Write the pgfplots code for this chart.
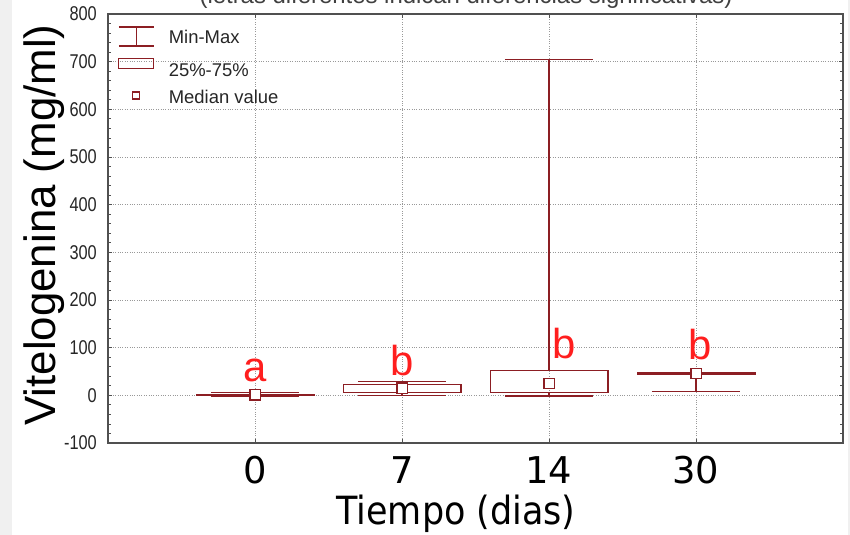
\documentclass[border=0pt]{standalone}
\usepackage{pgfplots}
\pgfplotsset{compat=1.18}
\usepackage{fontspec}
\setmainfont{Liberation Sans}
\newfontfamily\djv{DejaVu Sans}[FakeStretch=0.9]
\newfontfamily\djvt{DejaVu Sans}
\newfontfamily\narrow{Liberation Sans}[FakeStretch=0.82]
\definecolor{mycol}{RGB}{140,30,35}
\definecolor{myred}{RGB}{255,30,30}
\definecolor{axgray}{RGB}{80,80,80}
\begin{document}
\begin{tikzpicture}
\fill[gray!12] (0,0) rectangle (850bp,535bp);
\fill[white] (12bp,0) rectangle (848bp,535bp);
\node[anchor=base, inner sep=0pt, font=\fontsize{24}{24}\selectfont, text=black!75] at (466bp,531bp) {(letras diferentes indican diferencias significativas)};
\begin{axis}[
  at={(108bp,92bp)}, anchor=south west,
  width=735bp, height=429bp, scale only axis,
  xmin=0, xmax=5, ymin=-100, ymax=800,
  xtick={1,2,3,4}, xticklabels={0,7,14,30},
  ytick={-100,0,100,200,300,400,500,600,700,800},
  minor y tick num=4,
  tick align=inside,
  major tick length=4bp, minor tick length=3bp,
  tick style={axgray, line width=0.8bp},
  grid=major,
  major grid style={dotted, black!40, line width=0.9bp},
  axis line style={draw=axgray, line width=1.3bp},
  unbounded coords=jump,
  /pgf/number format/assume math mode=true,
  xticklabel style={font=\djvt\fontsize{37}{37}\selectfont, inner sep=0pt, yshift=-13bp},
  yticklabel style={font=\narrow\fontsize{20}{20}\selectfont, inner sep=0pt, xshift=-11bp, text=black!85},
  xlabel={Tiempo (dias)},
  xlabel style={font=\djv\fontsize{39}{39}\selectfont, at={(axis description cs:0.4735,-0.191)}, anchor=base, inner sep=0pt},
  ylabel={Vitelogenina (mg/ml)},
  ylabel style={font=\fontsize{44}{44}\selectfont, at={(axis description cs:-0.072,0.508)}, anchor=base, inner sep=0pt},
  legend style={at={(axis description cs:0.0136,0.972)}, anchor=north west, draw=none, fill=none,
    font=\fontsize{18.5}{18.5}\selectfont, row sep=10.5bp, inner sep=0pt,
    nodes={inner sep=0pt, text height=13bp, text depth=4bp, text=black!85}},
  legend cell align=left,
]
\addlegendimage{legend image code/.code={
  \draw[mycol, line width=1.3bp] (0bp,12bp)--(35bp,12bp) (17.5bp,12bp)--(17.5bp,-7bp) (0bp,-7bp)--(35bp,-7bp);
  \path[draw=none] (0bp,0bp) -- (50bp,0bp);}}
\addlegendentry{Min-Max}
\addlegendimage{legend image code/.code={
  \draw[mycol, line width=1.3bp] (0bp,3bp) rectangle (35bp,13bp);
  \path[draw=none] (0bp,0bp) -- (50bp,0bp);}}
\addlegendentry{25\%-75\%}
\addlegendimage{legend image code/.code={
  \draw[mycol, line width=1.3bp, fill=white] (14bp,0bp) rectangle (21bp,7bp);
  \path[draw=none] (0bp,0bp) -- (50bp,0bp);}}
\addlegendentry{Median value}

% boxes (25%-75%): x-0.4 .. x+0.4, q1 .. q3
\addplot[mycol, line width=1.4bp, forget plot] coordinates {
 (0.6,0.3) (1.4,0.3) (1.4,1.7) (0.6,1.7) (0.6,0.3) (1,nan)
 (1.6,6.5) (2.4,6.5) (2.4,23) (1.6,23) (1.6,6.5) (2,nan)
 (2.6,5.5) (3.4,5.5) (3.4,52) (2.6,52) (2.6,5.5) (3,nan)
 (3.6,45) (4.4,45) (4.4,46.5) (3.6,46.5) (3.6,45)
};
% whiskers (min-max)
\addplot[mycol, line width=1.4bp, forget plot] coordinates {
 (1,1.7) (1,6) (1,nan) (1,0.3) (1,-2) (1,nan) (0.7,6) (1.3,6) (1,nan) (0.7,-2) (1.3,-2) (1,nan)
 (2,23) (2,29) (2,nan) (2,6.5) (2,0) (2,nan) (1.7,29) (2.3,29) (2,nan) (1.7,0) (2.3,0) (2,nan)
 (3,52) (3,704) (3,nan) (3,5.5) (3,-1) (3,nan) (2.7,704) (3.3,704) (3,nan) (2.7,-1) (3.3,-1) (3,nan)
 (4,46.5) (4,47) (4,nan) (4,45) (4,8) (4,nan) (3.7,47) (4.3,47) (4,nan) (3.7,8) (4.3,8)
};
% medians
\addplot[only marks, forget plot, mark=square*, mark size=5.2bp,
  mark options={fill=white, draw=mycol, line width=1.4bp}] coordinates {(1,1) (2,15) (3,25) (4,46)};

\node[anchor=base, text=myred, font=\fontsize{42}{42}\selectfont, inner sep=0pt] at (axis cs:1,28) {a};
\node[anchor=base, text=myred, font=\fontsize{42}{42}\selectfont, inner sep=0pt] at (axis cs:2,42.6) {b};
\node[anchor=base, text=myred, font=\fontsize{42}{42}\selectfont, inner sep=0pt] at (axis cs:3.1,78) {b};
\node[anchor=base, text=myred, font=\fontsize{42}{42}\selectfont, inner sep=0pt] at (axis cs:4.03,76) {b};
\end{axis}
\pgfresetboundingbox
\useasboundingbox (0,0) rectangle (850bp,535bp);
\end{tikzpicture}
\end{document}
